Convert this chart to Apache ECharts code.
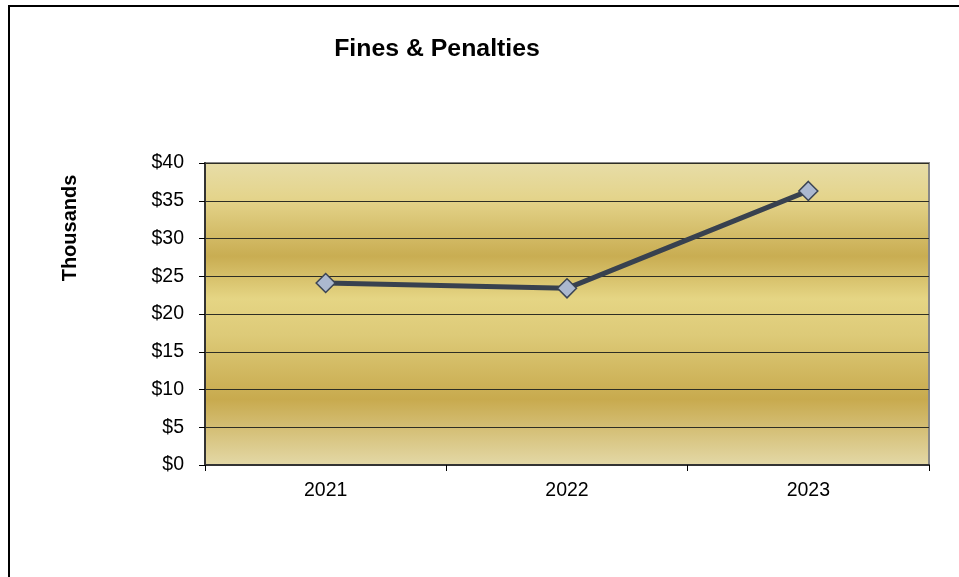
<!DOCTYPE html>
<html>
<head>
<meta charset="utf-8">
<script src="https://cdn.jsdelivr.net/npm/echarts@6/dist/echarts.min.js"></script>
<style>
  html, body { margin: 0; padding: 0; background: #fff; }
  #main { width: 959px; height: 577px; }
</style>
</head>
<body>
<div id="main"></div>
<script>
// chart values
var years = ["2021", "2022", "2023"];
var fines = [24.1, 23.4, 36.3];   // thousands of dollars
var yMin = 0, yMax = 40, yStep = 5;

var myChart = echarts.init(document.getElementById("main"));

var option = {
  backgroundColor: "#ffffff",
  animation: false,
  graphic: [
    // outer frame (top + left edges)
    {
      type: "polyline",
      shape: { points: [[9, 577], [9, 6], [959, 6]] },
      style: { stroke: "#000", lineWidth: 2, fill: null },
      silent: true
    },
    {
      type: "text",
      x: 437,
      y: 50,
      scaleX: 1.08,
      style: {
        text: "Fines & Penalties",
        font: "bold 23px Liberation Sans, Arial, sans-serif",
        fill: "#000",
        align: "center",
        verticalAlign: "middle"
      }
    },
    {
      type: "text",
      x: 70,
      y: 228,
      rotation: Math.PI / 2,
      style: {
        text: "Thousands",
        font: "bold 20px Liberation Sans, Arial, sans-serif",
        fill: "#000",
        align: "center",
        verticalAlign: "middle"
      }
    }
  ],
  grid: {
    left: 205,
    right: 30,
    top: 163,
    bottom: 112,
    show: true,
    borderColor: "#878787",
    borderWidth: 2,
    backgroundColor: {
      type: "linear",
      x: 0, y: 0, x2: 0, y2: 1,
      colorStops: [
        { offset: 0, color: "#e7dda8" },
        { offset: 0.12, color: "#e4d48b" },
        { offset: 0.31, color: "#c9ad52" },
        { offset: 0.45, color: "#e5d584" },
        { offset: 0.57, color: "#ddca78" },
        { offset: 0.78, color: "#c8aa4e" },
        { offset: 1, color: "#e4d9a8" }
      ]
    }
  },
  xAxis: {
    type: "category",
    data: years,
    boundaryGap: true,
    axisLine: { show: true, lineStyle: { color: "#333", width: 2 } },
    axisTick: { show: true, length: 6, lineStyle: { color: "#000", width: 1 } },
    axisLabel: {
      color: "#000",
      fontSize: 19.5,
      fontFamily: "Liberation Sans, Arial, sans-serif",
      margin: 16
    },
    splitLine: { show: false }
  },
  yAxis: {
    type: "value",
    min: yMin,
    max: yMax,
    interval: yStep,
    axisLine: { show: true, lineStyle: { color: "#333", width: 2 } },
    axisTick: { show: true, length: 6, lineStyle: { color: "#000", width: 1 } },
    axisLabel: {
      color: "#000",
      fontSize: 19.5,
      fontFamily: "Liberation Sans, Arial, sans-serif",
      margin: 21,
      formatter: "${value}"
    },
    splitLine: { show: true, lineStyle: { color: "#2e2e24", width: 1.2 } }
  },
  series: [
    {
      name: "Fines & Penalties",
      type: "line",
      data: fines,
      symbol: "diamond",
      symbolSize: 19,
      lineStyle: { color: "#38414f", width: 5 },
      itemStyle: { color: "#abb8cf", borderColor: "#3b4454", borderWidth: 1.5 },
      z: 5
    }
  ]
};

myChart.setOption(option);
</script>
</body>
</html>
